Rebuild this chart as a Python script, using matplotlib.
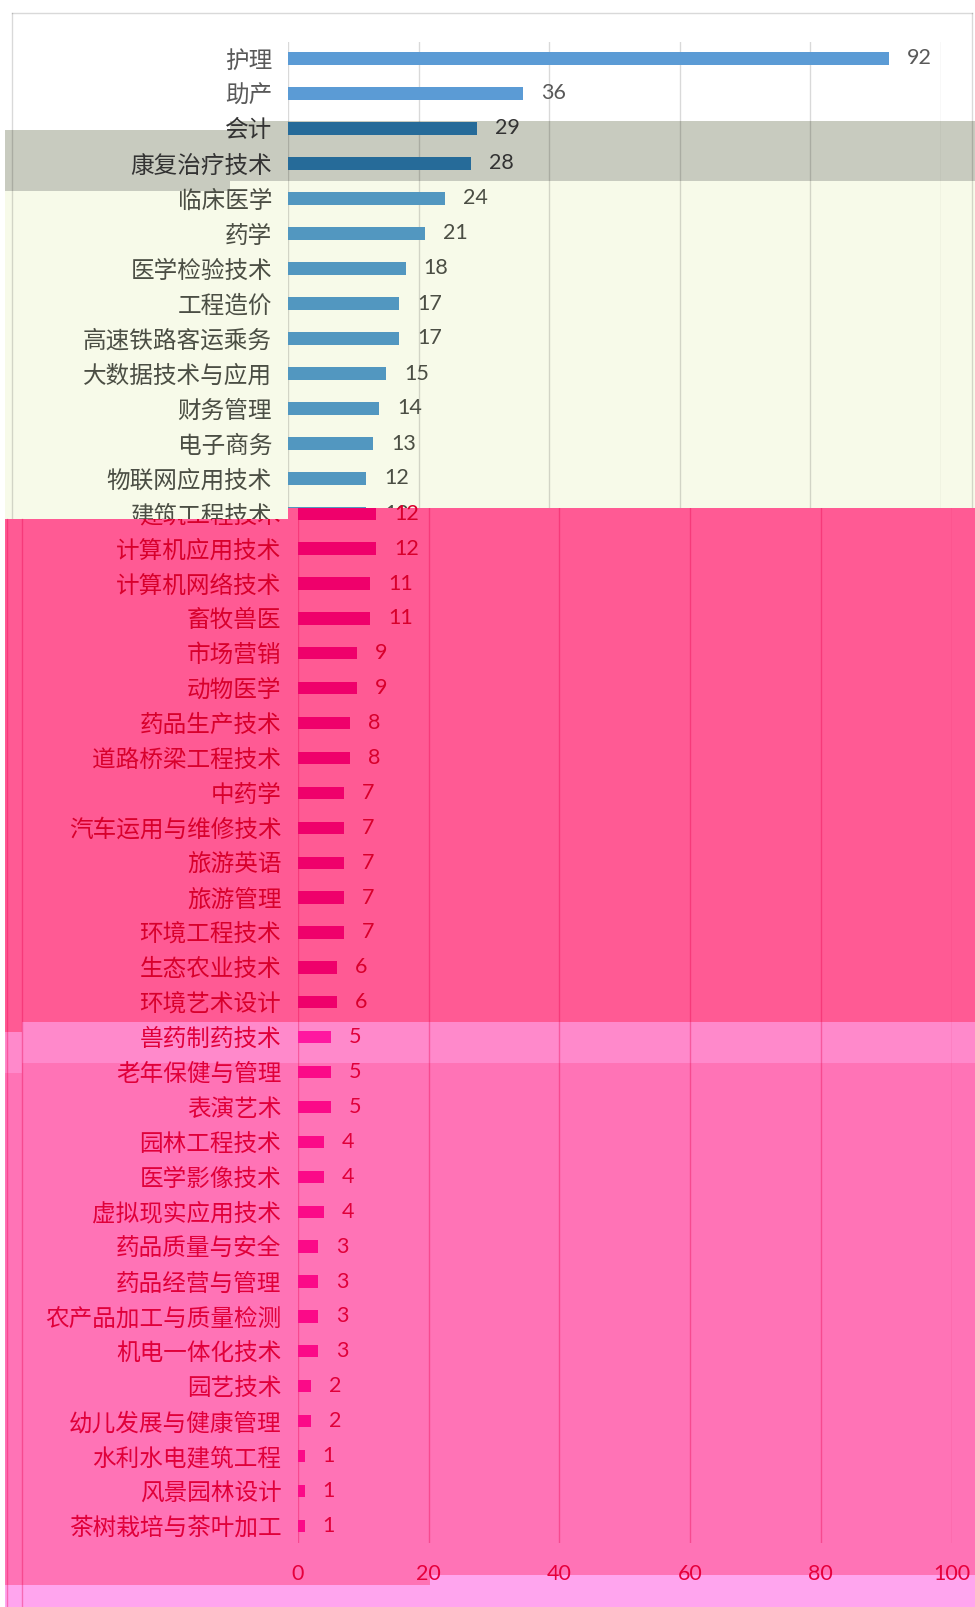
import numpy as np
import matplotlib.pyplot as plt
from matplotlib.patches import Rectangle
from matplotlib.lines import Line2D
from matplotlib.transforms import Bbox, TransformedBbox

plt.rcParams['font.family'] = ['Noto Sans CJK SC', 'DejaVu Sans']

# data
names = ['护理', '助产', '会计', '康复治疗技术', '临床医学', '药学', '医学检验技术', '工程造价',
         '高速铁路客运乘务', '大数据技术与应用', '财务管理', '电子商务', '物联网应用技术', '建筑工程技术',
         '计算机应用技术', '计算机网络技术', '畜牧兽医', '市场营销', '动物医学', '药品生产技术',
         '道路桥梁工程技术', '中药学', '汽车运用与维修技术', '旅游英语', '旅游管理', '环境工程技术',
         '生态农业技术', '环境艺术设计', '兽药制药技术', '老年保健与管理', '表演艺术', '园林工程技术',
         '医学影像技术', '虚拟现实应用技术', '药品质量与安全', '药品经营与管理', '农产品加工与质量检测',
         '机电一体化技术', '园艺技术', '幼儿发展与健康管理', '水利水电建筑工程', '风景园林设计',
         '茶树栽培与茶叶加工']
values = [92, 36, 29, 28, 24, 21, 18, 17, 17, 15, 14, 13, 12, 12,
          12, 11, 11, 9, 9, 8, 8, 7, 7, 7, 7, 7, 6, 6, 5, 5, 5, 4, 4, 4,
          3, 3, 3, 3, 2, 2, 1, 1, 1]
xticks = [0, 20, 40, 60, 80, 100]
split = 13  # 建筑工程技术 row is shared by both halves

W, H = 975, 1607
fig = plt.figure(figsize=(W / 100, H / 100), dpi=100)


def box(x0, y0, x1, y1):
    return [x0 / W, 1 - y1 / H, (x1 - x0) / W, (y1 - y0) / H]


def rect(x0, y0, x1, y1, c, z):
    l, b, w, h = box(x0, y0, x1, y1)
    fig.add_artist(Rectangle((l, b), w, h, transform=fig.transFigure,
                             facecolor=c, edgecolor='none', zorder=z))


def vline(x, y0, y1, c, z, a=1.0):
    fig.add_artist(Line2D([x / W, x / W], [1 - y0 / H, 1 - y1 / H], transform=fig.transFigure,
                          color=c, alpha=a, lw=1, zorder=z))


# backgrounds behind the upper chart
rect(5, 181, 975, 520, '#f7fae9', -10)
rect(230, 121, 975, 181, '#c8cbbf', -9)
rect(5, 130, 230, 191, '#c8cbbf', -9)
fig.add_artist(Line2D([12 / W, 972 / W], [1 - 12.7 / H] * 2, transform=fig.transFigure,
                      color='#d9d9d9', lw=1, zorder=0.5))
vline(12, 12.7, 519, 'k', 0.5, 0.15)
vline(972, 12.7, 508, 'k', 0.5, 0.15)

# pink overlays covering the lower chart
rect(288, 508, 975, 1022, '#ff5a94', 2)
rect(22, 519, 288, 1022, '#ff5a94', 2)
rect(5, 519, 22, 1032, '#ff5a94', 2)
rect(22, 1022, 975, 1063, '#ff89cb', 2)
rect(5, 1032, 22, 1073, '#ff89cb', 2)
rect(22, 1063, 430, 1585, '#ff73b6', 2)
rect(430, 1063, 975, 1575, '#ff73b6', 2)
rect(5, 1073, 22, 1585, '#ff73b6', 2)
rect(430, 1575, 975, 1607, '#ffa5ee', 2)
rect(5, 1585, 430, 1607, '#ffa5ee', 2)
vline(6.5, 519, 1607, '#e8004a', 2.5, 0.35)
vline(22, 519, 1607, '#e8004a', 2.5, 0.35)

# upper chart
top_bar = ['#5b9bd5'] * 2 + ['#266b99'] * 2 + ['#5297c0'] * 10
top_txt = ['#595959'] * 2 + ['#333333'] * 2 + ['#4b4e44'] * 10
ax1 = fig.add_axes(box(288, 42, 941, 520))
ax1.set_zorder(1)
ax1.patch.set_visible(False)
y1 = np.arange(split + 1)
bars1 = ax1.barh(y1, values[:split + 1], height=0.35, color=top_bar)
ax1.set_xlim(0, 100)
ax1.set_ylim((520 - 58.5) / 35, (42 - 58.5) / 35)
ax1.set_xticks(xticks)
ax1.grid(axis='x', color='k', alpha=0.15, lw=1)
ax1.set_axisbelow(True)
ax1.tick_params(axis='x', length=0, labelbottom=False)
ax1.tick_params(axis='y', length=0, pad=11.5)
ax1.set_yticks(y1)
ax1.set_yticklabels(names[:split + 1], fontsize=17, fontweight='light')
for t, c in zip(ax1.get_yticklabels(), top_txt):
    t.set_color(c)
for s in ax1.spines.values():
    s.set_visible(False)
lab1 = ax1.bar_label(bars1, padding=13, fontsize=15.5, family=['Lato', 'DejaVu Sans'])
for t, c in zip(lab1, top_txt):
    t.set_color(c)

# lower chart
n2 = len(names) - split
bot_bar = ['#ef006b'] * 15 + ['#ff18a0'] + ['#fb0a88'] * (n2 - 16)
bot_txt = ['#d8002c'] * 15 + ['#e0003a'] + ['#e0003a'] * (n2 - 16)
ax2 = fig.add_axes(box(298, 508, 951.5, 1543))
ax2.set_zorder(3)
ax2.patch.set_visible(False)
y2 = np.arange(n2)
bars2 = ax2.barh(y2, values[split:], height=0.35, color=bot_bar)
ax2.set_xlim(0, 100)
ax2.set_ylim((1543 - 513.7) / 34.9, (508 - 513.7) / 34.9)
ax2.set_xticks(xticks)
ax2.set_xticklabels([str(v) for v in xticks], fontsize=15.5, family=['Lato', 'DejaVu Sans'],
                    color='#e6003c')
ax2.grid(axis='x', color='#e8004a', alpha=0.35, lw=1)
ax2.set_axisbelow(True)
ax2.tick_params(axis='x', length=0, pad=15)
ax2.tick_params(axis='y', length=0, pad=12)
ax2.set_yticks(y2)
ax2.set_yticklabels(names[split:], fontsize=17, fontweight='light')
clip = TransformedBbox(Bbox.from_extents(0, 0, 1, 1 - 519 / H), fig.transFigure)
for t, c in zip(ax2.get_yticklabels(), bot_txt):
    t.set_color(c)
    t.set_clip_box(clip)
    t.set_clip_on(True)
for s in ax2.spines.values():
    s.set_visible(False)
lab2 = ax2.bar_label(bars2, padding=13, fontsize=15.5, family=['Lato', 'DejaVu Sans'])
for t, c in zip(lab2, bot_txt):
    t.set_color(c)

fig.savefig('out.png', dpi=100)
